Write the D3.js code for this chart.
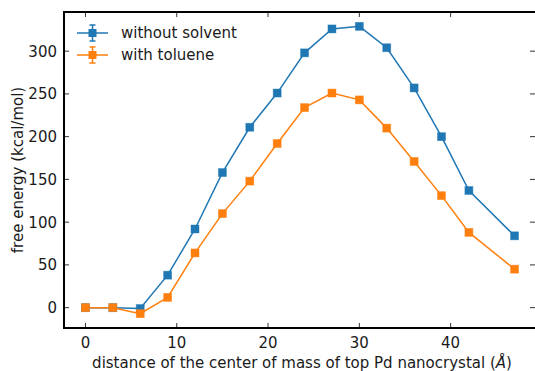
<!DOCTYPE html>
<html><head><meta charset="utf-8">
<script src="https://cdn.jsdelivr.net/npm/d3@7"></script>
<style>body{margin:0;background:#fff}svg{display:block}text{font-family:"DejaVu Sans",sans-serif;fill:#1a1a1a}</style>
</head><body><svg id="c" width="535" height="371"></svg>
<script>
const distances = [0,3,6,9,12,15,18,21,24,27,30,33,36,39,42,47];
const withoutSolvent = [0,0,-1,38,92,158,211,251,298,326,329,304,257,200,137,84];
const withToluene = [0,0,-7,12,64,110,148,192,234,251,243,210,171,131,88,45];
const seriesNames = ["without solvent","with toluene"];
const seriesColors = ["#1f77b4","#ff7f0e"];
const xTicks = [0,10,20,30,40];
const yTicks = [0,50,100,150,200,250,300];
const xLabelMain = "distance of the center of mass of top Pd nanocrystal (";
const xLabelUnit = "Å";
const yLabel = "free energy (kcal/mol)";

const FS = 15;
const svg = d3.select("#c");
const m = {l:64, r:536, t:12, b:328};
const xmin = d3.min(distances), xmax = d3.max(distances);
const xm = (xmax-xmin)*0.05;
const allY = withoutSolvent.concat(withToluene);
const ymin = d3.min(allY), ymax = d3.max(allY), ym=(ymax-ymin)*0.05;
const x = d3.scaleLinear().domain([xmin-xm, xmax+xm]).range([m.l, m.r]);
const y = d3.scaleLinear().domain([ymin-ym, ymax+ym]).range([m.b, m.t]);

const g = svg.append("g");
const tk = 5;
xTicks.forEach(v=>{
  g.append("line").attr("x1",x(v)).attr("x2",x(v)).attr("y1",m.b).attr("y2",m.b-tk).attr("stroke","#333").attr("stroke-width",1);
  g.append("line").attr("x1",x(v)).attr("x2",x(v)).attr("y1",m.t).attr("y2",m.t+tk).attr("stroke","#333").attr("stroke-width",1);
  g.append("text").attr("x",x(v)).attr("y",m.b+20).attr("text-anchor","middle").attr("font-size",FS).text(v);
});
yTicks.forEach(v=>{
  g.append("line").attr("y1",y(v)).attr("y2",y(v)).attr("x1",m.l).attr("x2",m.l+tk).attr("stroke","#333").attr("stroke-width",1);
  g.append("line").attr("y1",y(v)).attr("y2",y(v)).attr("x1",535).attr("x2",535-tk).attr("stroke","#333").attr("stroke-width",1);
  g.append("text").attr("x",m.l-7).attr("y",y(v)).attr("dy","0.36em").attr("text-anchor","end").attr("font-size",FS).text(v);
});

const series = [withoutSolvent, withToluene];
series.forEach((vals,i)=>{
  const pts = distances.map((d,j)=>[d,vals[j]]);
  g.append("path").datum(pts).attr("fill","none").attr("stroke",seriesColors[i]).attr("stroke-width",1.5)
   .attr("d",d3.line().x(d=>x(d[0])).y(d=>y(d[1])));
  g.selectAll(null).data(pts).enter().append("rect")
   .attr("x",d=>x(d[0])-4).attr("y",d=>y(d[1])-4).attr("width",8).attr("height",8)
   .attr("fill",seriesColors[i]).attr("stroke",seriesColors[i]).attr("stroke-opacity",0.5).attr("stroke-width",0.8);
});

g.append("rect").attr("x",m.l).attr("y",m.t).attr("width",m.r-m.l).attr("height",m.b-m.t)
 .attr("fill","none").attr("stroke","#000").attr("stroke-width",2);

seriesNames.forEach((n,i)=>{
  const ly = 33 + i*22;
  const c = seriesColors[i];
  const lg = g.append("g");
  lg.append("line").attr("x1",77).attr("x2",108).attr("y1",ly).attr("y2",ly).attr("stroke",c).attr("stroke-width",1.5);
  lg.append("line").attr("x1",92.5).attr("x2",92.5).attr("y1",ly-8).attr("y2",ly+8).attr("stroke",c).attr("stroke-width",1.5);
  lg.append("line").attr("x1",89.5).attr("x2",95.5).attr("y1",ly-8).attr("y2",ly-8).attr("stroke",c).attr("stroke-width",1.5);
  lg.append("line").attr("x1",89.5).attr("x2",95.5).attr("y1",ly+8).attr("y2",ly+8).attr("stroke",c).attr("stroke-width",1.5);
  lg.append("rect").attr("x",88.5).attr("y",ly-4).attr("width",8).attr("height",8).attr("fill",c);
  lg.append("text").attr("x",121).attr("y",ly).attr("dy","0.36em").attr("font-size",FS).text(n);
});

const xl = svg.append("text").attr("x",(m.l+m.r)/2+2).attr("y",368).attr("text-anchor","middle").attr("font-size",FS);
xl.append("tspan").text(xLabelMain);
xl.append("tspan").attr("font-style","italic").text(xLabelUnit);
xl.append("tspan").text(")");
svg.append("text").attr("transform",`translate(23,${(m.t+m.b)/2}) rotate(-90)`).attr("text-anchor","middle").attr("font-size",FS).text(yLabel);
</script></body></html>
